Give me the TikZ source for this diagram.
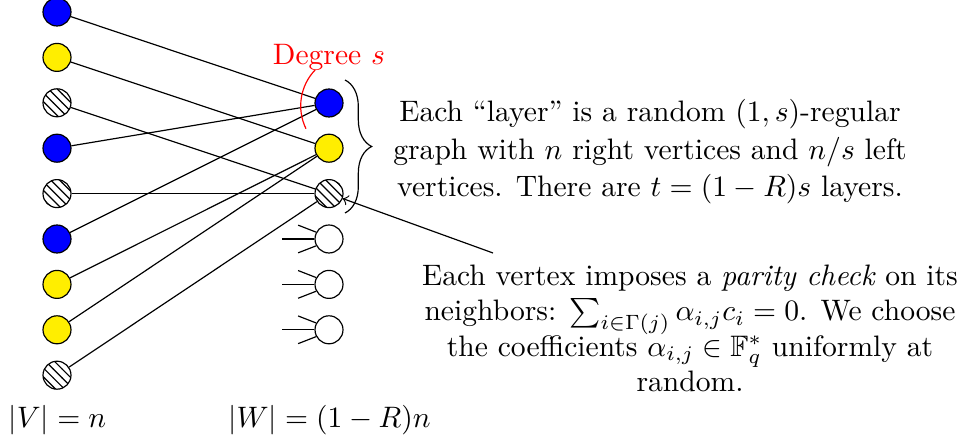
\documentclass[tikz,border=0pt]{standalone}
\usepackage{amssymb}
\usetikzlibrary{patterns,decorations.pathreplacing}
\definecolor{vyellow}{RGB}{255,238,0}
\begin{document}
\begin{tikzpicture}[x=0.338pt,y=-0.338pt,
  vtx/.style={circle,draw,inner sep=0pt,minimum size=9.46pt},
  bl/.style={vtx,fill=blue},
  yl/.style={vtx,fill=vyellow},
  ht/.style={vtx,pattern=north west lines},
  em/.style={vtx,fill=white},
  stub/.style={draw},
  txt/.style={align=center,anchor=base,inner sep=0pt}]
\useasboundingbox (0,0) rectangle (961,440);
% left vertices
\node[bl] (l1) at (57,12) {};
\node[yl] (l2) at (57,57.4) {};
\node[ht] (l3) at (57,102.8) {};
\node[bl] (l4) at (57,148.2) {};
\node[ht] (l5) at (57,193.6) {};
\node[bl] (l6) at (57,239) {};
\node[yl] (l7) at (57,284.4) {};
\node[yl] (l8) at (57,329.8) {};
\node[ht] (l9) at (57,375.2) {};
% right vertices
\node[bl] (r1) at (329,103) {};
\node[yl] (r2) at (329,148.2) {};
\node[ht] (r3) at (329,193.6) {};
\node[em] (r4) at (329,239) {};
\node[em] (r5) at (329,284.4) {};
\node[em] (r6) at (329,329.8) {};
% edges
\draw (l1) -- (r1);
\draw (l2) -- (r2);
\draw (l3) -- (r3);
\draw (l4) -- (r1);
\draw (l5) -- (r3);
\draw (l6) -- (r1);
\draw (l7) -- (r2);
\draw (l8) -- (r2);
\draw (l9) -- (r3);
% stubs
\foreach \r in {r4,r5,r6}{
  \draw[stub] (\r.west) -- ++(-32,0);
  \draw[stub] (\r.152) -- ++(-18,-7);
  \draw[stub] (\r.208) -- ++(-18,7);
}
% degree arc
\draw[red] (352.7,105.9) ++(-136:52) arc[start angle=-136,end angle=-206,radius=52];
\node[txt,red] (deg) at (329,65) {Degree $s$};
% brace
\coordinate (bt) at (345,80);
\coordinate (bb) at (345,213);
\draw[decorate,decoration={brace,amplitude=9pt}] (bt) -- (bb);
% text 1
\node[txt] (t1) at (650,197) {Each ``layer'' is a random $(1,s)$-regular\\[0.8pt]
graph with $n$ right vertices and $n/s$ left\\[0.8pt]
vertices. There are $t=(1-R)s$ layers.};
% text 2
\coordinate (as) at (493,253);
\draw[->] (as) -- (r3);
\node[txt] (t2) at (690,392) {Each vertex imposes a \emph{parity check} on its\\
neighbors: $\sum_{i\in\Gamma(j)}\alpha_{i,j}c_i=0$. We choose\\
the coefficients $\alpha_{i,j}\in\mathbb{F}_q^*$ uniformly at\\
random.};
% labels
\node[txt] (lv) at (57.5,428) {$|V|=n$};
\node[txt] (lw) at (329.5,428) {$|W|=(1-R)n$};
\end{tikzpicture}
\end{document}
